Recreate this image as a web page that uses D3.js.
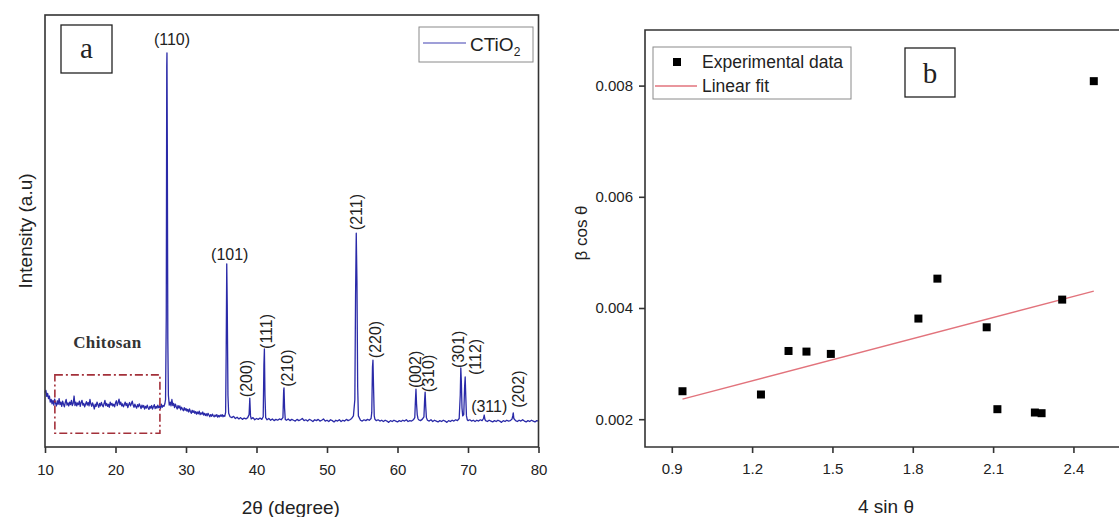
<!DOCTYPE html>
<html>
<head>
<meta charset="utf-8">
<script src="https://cdn.jsdelivr.net/npm/d3@7"></script>
<style>
  html, body { margin: 0; padding: 0; background: #fff; }
  svg { display: block; font-family: "Liberation Sans", Arial, sans-serif; }
</style>
</head>
<body>
<svg id="chart" width="1119" height="517"></svg>
<script>
// ---------- Panel a: XRD scan of CTiO2, [2θ (deg), intensity (a.u.)] ----------
const scan10to27 = [
  [10.000,126],[10.125,131],[10.250,117],[10.375,124],[10.500,112],[10.625,118],[10.750,104],[10.875,110],
  [11.000,100],[11.125,108],[11.250,97],[11.375,111],[11.500,101],[11.625,95],[11.750,107],[11.875,99],
  [12.000,112],[12.125,98],[12.250,104],[12.375,94],[12.500,106],[12.625,99],[12.750,93],[12.875,103],
  [13.000,110],[13.125,97],[13.250,102],[13.375,95],[13.500,104],[13.625,98],[13.750,108],[13.875,96],
  [14.000,101],[14.125,118],[14.250,96],[14.375,104],[14.500,95],[14.625,102],[14.750,98],[14.875,106],
  [15.000,94],[15.125,103],[15.250,108],[15.375,97],[15.500,101],[15.625,93],[15.750,99],[15.875,105],
  [16.000,97],[16.125,103],[16.250,95],[16.375,110],[16.500,100],[16.625,94],[16.750,102],[16.875,96],
  [17.000,88],[17.125,99],[17.250,94],[17.375,104],[17.500,98],[17.625,92],[17.750,101],[17.875,95],
  [18.000,103],[18.125,97],[18.250,93],[18.375,100],[18.500,108],[18.625,96],[18.750,101],[18.875,94],
  [19.000,99],[19.125,92],[19.250,104],[19.375,97],[19.500,101],[19.625,95],[19.750,99],[19.875,93],
  [20.000,102],[20.125,107],[20.250,96],[20.375,103],[20.500,111],[20.625,98],[20.750,104],[20.875,95],
  [21.000,100],[21.125,93],[21.250,98],[21.375,104],[21.500,96],[21.625,101],[21.750,91],[21.875,98],
  [22.000,103],[22.125,95],[22.250,100],[22.375,106],[22.500,97],[22.625,92],[22.750,99],[22.875,94],
  [23.000,90],[23.125,98],[23.250,93],[23.375,100],[23.500,95],[23.625,89],[23.750,97],[23.875,92],
  [24.000,96],[24.125,88],[24.250,94],[24.375,90],[24.500,97],[24.625,91],[24.750,87],[24.875,94],
  [25.000,90],[25.125,96],[25.250,88],[25.375,93],[25.500,98],[25.625,89],[25.750,94],[25.875,90],
  [26.000,97],[26.125,91],[26.250,95],[26.375,89],[26.500,99],[26.625,92],[26.750,96],[26.875,94],
  [27.000,100]
];
const scan27to45 = [
  [27.10,110],[27.20,300],[27.27,880],[27.30,912],[27.35,700],[27.42,250],[27.50,120],[27.625,97],
  [27.750,104],[27.875,95],[28.000,110],[28.125,96],[28.250,101],[28.375,91],[28.500,99],[28.625,93],
  [28.750,88],[28.875,96],[29.000,90],[29.125,95],[29.250,86],[29.375,92],[29.500,88],[29.625,84],
  [29.750,91],[29.875,85],[30.000,89],[30.125,83],[30.250,87],[30.375,81],[30.500,88],[30.625,82],
  [30.750,78],[30.875,85],[31.000,80],[31.125,84],[31.250,78],[31.375,82],[31.500,76],[31.625,81],
  [31.750,77],[31.875,83],[32.000,75],[32.125,79],[32.250,76],[32.375,81],[32.500,74],[32.625,78],
  [32.750,73],[32.875,77],[33.000,72],[33.125,78],[33.250,74],[33.375,70],[33.500,75],[33.625,71],
  [33.750,76],[33.875,72],[34.000,70],[34.125,74],[34.250,71],[34.375,75],[34.500,69],[34.625,73],
  [34.750,70],[34.875,74],[35.000,71],[35.125,75],[35.250,70],[35.375,73],[35.500,71],
  [35.62,80],[35.70,220],[35.78,424],[35.85,330],[35.95,120],[36.05,78],[36.25,70],[36.50,68],
  [36.75,71],[37.00,66],[37.25,69],[37.50,65],[37.75,68],[38.00,64],[38.25,67],[38.50,65],
  [38.75,68],[38.95,75],[39.05,113],[39.15,72],[39.25,65],[39.50,68],[39.75,63],[40.00,66],
  [40.25,64],[40.50,67],[40.75,64],[40.95,70],[41.05,190],[41.12,227],[41.20,120],[41.30,68],
  [41.50,63],[41.75,66],[42.00,62],[42.25,65],[42.50,61],[42.75,64],[43.00,62],[43.25,65],
  [43.50,63],[43.75,68],[43.85,130],[43.90,137],[43.98,90],[44.08,64],[44.25,62],[44.50,65],
  [44.75,61]
];
const scan45to62 = [
  [45.00,64],[45.25,62],[45.50,60],[45.75,64],[46.00,61],[46.25,63],[46.50,66],[46.75,61],
  [47.00,63],[47.25,60],[47.50,64],[47.75,62],[48.00,59],[48.25,63],[48.50,61],[48.75,64],
  [49.00,60],[49.25,62],[49.50,65],[49.75,60],[50.00,62],[50.25,59],[50.50,63],[50.75,61],
  [51.00,58],[51.25,62],[51.50,60],[51.75,63],[52.00,59],[52.25,62],[52.50,60],[52.75,64],
  [53.00,61],[53.25,63],[53.50,66],[53.75,72],[53.95,110],[54.05,350],[54.15,495],[54.25,380],
  [54.35,140],[54.45,72],[54.75,62],[55.00,60],[55.25,63],[55.50,61],[55.75,64],[56.00,62],
  [56.25,66],[56.35,80],[56.45,185],[56.52,201],[56.60,140],[56.70,72],[56.80,64],[57.00,61],
  [57.25,63],[57.50,60],[57.75,62],[58.00,59],[58.25,62],[58.50,60],[58.75,57],[59.00,61],
  [59.25,59],[59.50,62],[59.75,60],[60.00,58],[60.25,61],[60.50,59],[60.75,62],[61.00,60],
  [61.25,63],[61.50,59],[61.75,61]
];
const scan62to80 = [
  [62.00,60],[62.25,63],[62.45,68],[62.55,110],[62.62,134],[62.70,100],[62.80,75],[62.90,66],
  [63.00,63],[63.25,61],[63.50,64],[63.75,70],[63.85,110],[63.92,127],[64.00,95],[64.10,68],
  [64.25,62],[64.50,60],[64.75,63],[65.00,59],[65.25,62],[65.50,60],[65.75,58],[66.00,61],
  [66.25,59],[66.50,62],[66.75,60],[67.00,57],[67.25,61],[67.50,59],[67.75,62],[68.00,60],
  [68.25,63],[68.50,61],[68.75,66],[68.90,120],[68.98,183],[69.06,150],[69.15,90],[69.25,72],
  [69.40,75],[69.52,140],[69.60,162],[69.68,120],[69.78,72],[69.90,63],[70.00,61],[70.25,63],
  [70.50,60],[70.75,62],[71.00,59],[71.25,62],[71.50,60],[71.75,63],[72.00,61],[72.20,66],
  [72.30,74],[72.40,64],[72.50,61],[72.75,59],[73.00,62],[73.25,60],[73.50,58],[73.75,61],
  [74.00,59],[74.25,62],[74.50,60],[74.75,57],[75.00,61],[75.25,59],[75.50,62],[75.75,60],
  [76.00,61],[76.25,65],[76.35,72],[76.42,79],[76.50,66],[76.75,61],[77.00,59],[77.25,62],
  [77.50,60],[77.75,63],[78.00,60],[78.25,58],[78.50,61],[78.75,59],[79.00,62],[79.25,60],
  [79.50,58],[79.75,61],[80.00,60]
];

// Indexed reflections: Miller indices, peak position and peak intensity
const hklLabels    = ["(110)","(101)","(200)","(111)","(210)","(211)","(220)","(002)","(310)","(301)","(112)","(311)","(202)"];
const hklTheta     = [27.30, 35.78, 39.05, 41.12, 43.90, 54.15, 56.52, 62.62, 63.92, 68.98, 69.60, 72.30, 76.42];
const hklIntensity = [912, 424, 113, 227, 137, 495, 201, 134, 127, 183, 162, 74, 79];

const xTicksA = [10, 20, 30, 40, 50, 60, 70, 80];
// Amorphous chitosan region (2θ range, intensity range)
const chitosanTheta = [11.4, 26.3];
const chitosanIntensity = [32, 167];

// ---------- Panel b: Williamson–Hall plot ----------
const fourSinTheta = [0.940, 1.233, 1.336, 1.403, 1.494, 1.821, 1.892, 2.076, 2.116, 2.256, 2.281, 2.358, 2.476];
const betaCosTheta = [0.002503, 0.002444, 0.003227, 0.003216, 0.003174, 0.003810, 0.004528, 0.003653, 0.002180, 0.002120, 0.002108, 0.004151, 0.008080];
const xTicksB = [0.9, 1.2, 1.5, 1.8, 2.1, 2.4];
const yTicksB = [0.002, 0.004, 0.006, 0.008];

// ---------- drawing ----------
const svg = d3.select("#chart");
const frameColor = "#333";
const textColor = "#222";
const scanColor = "#2a2aa8";
const fitColor = "#e2737c";

// label placement for the hkl annotations (px offsets from the peak top)
const hklLayout = [
  {rot:false, dx:5,   gap:14},
  {rot:false, dx:3,   gap:9},
  {rot:true,  dx:-3.5,gap:1},
  {rot:true,  dx:2,   gap:0},
  {rot:true,  dx:3,   gap:1},
  {rot:true,  dx:0,   gap:3},
  {rot:true,  dx:2,   gap:2},
  {rot:true,  dx:-1,  gap:1},
  {rot:true,  dx:3,   gap:0},
  {rot:true,  dx:-2,  gap:0},
  {rot:true,  dx:10,  gap:2},
  {rot:false, dx:5,   gap:9},
  {rot:true,  dx:5,   gap:5}
];

// ----- Panel a -----
const A = {left: 45, right: 538.5, top: 15, bottom: 447};
const xA = d3.scaleLinear().domain([10, 80]).range([A.left, A.right]);
const yA = d3.scaleLinear().domain([0, 1000]).range([A.bottom, A.top]);

const gA = svg.append("g");

const scan = [].concat(scan10to27, scan27to45, scan45to62, scan62to80);
gA.append("path")
  .datum(scan)
  .attr("fill", "none")
  .attr("stroke", scanColor)
  .attr("stroke-width", 1.3)
  .attr("stroke-linejoin", "round")
  .attr("d", d3.line().x(d => xA(d[0])).y(d => yA(d[1])));

// dash-dot box around the chitosan region
gA.append("rect")
  .attr("x", xA(chitosanTheta[0]))
  .attr("y", yA(chitosanIntensity[1]))
  .attr("width", xA(chitosanTheta[1]) - xA(chitosanTheta[0]))
  .attr("height", yA(chitosanIntensity[0]) - yA(chitosanIntensity[1]))
  .attr("fill", "none")
  .attr("stroke", "#a3303a")
  .attr("stroke-width", 1.6)
  .attr("stroke-dasharray", "8,3,2,3");

gA.append("text")
  .attr("x", (xA(chitosanTheta[0]) + xA(chitosanTheta[1])) / 2)
  .attr("y", yA(chitosanIntensity[1]) - 33)
  .attr("text-anchor", "middle")
  .attr("dy", "0.35em")
  .style("font-family", "'Liberation Serif', 'Times New Roman', serif")
  .style("font-weight", "bold")
  .style("font-size", "17px")
  .style("letter-spacing", "0.4px")
  .attr("fill", "#333")
  .text("Chitosan");

// hkl labels
hklLabels.forEach((lab, i) => {
  const L = hklLayout[i];
  const px = xA(hklTheta[i]) + L.dx;
  const py = yA(hklIntensity[i]) - L.gap;
  const t = gA.append("text")
    .attr("fill", textColor)
    .style("font-size", "16px")
    .text(lab);
  if (L.rot) {
    t.attr("transform", `translate(${px},${py}) rotate(-90)`)
     .attr("text-anchor", "start")
     .attr("dy", "0.35em");
  } else {
    t.attr("x", px).attr("y", py)
     .attr("text-anchor", "middle")
     .attr("dy", "0.35em");
  }
});

// frame
gA.append("rect")
  .attr("x", A.left).attr("y", A.top)
  .attr("width", A.right - A.left).attr("height", A.bottom - A.top)
  .attr("fill", "none").attr("stroke", frameColor).attr("stroke-width", 1.6);

// bottom axis
const axA = gA.append("g")
  .attr("transform", `translate(0,${A.bottom})`)
  .call(d3.axisBottom(xA).tickValues(xTicksA).tickFormat(d3.format("d")).tickSize(6).tickPadding(11));
axA.select(".domain").remove();
axA.selectAll(".tick line").attr("stroke", frameColor).attr("stroke-width", 1.6);
axA.selectAll(".tick text").attr("fill", textColor).style("font-size", "15px").style("font-family", "'Liberation Sans', Arial, sans-serif");

// axis titles
gA.append("text")
  .attr("x", (A.left + A.right) / 2 - 1)
  .attr("y", 507)
  .attr("dy", "0.35em")
  .attr("text-anchor", "middle")
  .attr("fill", textColor)
  .style("font-size", "19px")
  .text("2θ (degree)");

gA.append("text")
  .attr("transform", `translate(25,${(A.top + A.bottom) / 2}) rotate(-90)`)
  .attr("dy", "0.35em")
  .attr("text-anchor", "middle")
  .attr("fill", textColor)
  .style("font-size", "19px")
  .text("Intensity (a.u)");

// panel letter box
gA.append("rect").attr("x", 61).attr("y", 25).attr("width", 51).attr("height", 48)
  .attr("fill", "#fff").attr("stroke", "#222").attr("stroke-width", 1.3);
gA.append("text").attr("x", 86.5).attr("y", 49).attr("dy", "0.3em")
  .attr("text-anchor", "middle")
  .style("font-family", "'Liberation Serif', 'Times New Roman', serif")
  .style("font-size", "29px").attr("fill", "#222").text("a");

// legend
const legA = gA.append("g");
legA.append("rect").attr("x", 419).attr("y", 27).attr("width", 114).attr("height", 35)
  .attr("fill", "#fff").attr("stroke", "#8a8a8a").attr("stroke-width", 1);
legA.append("line").attr("x1", 423).attr("x2", 466).attr("y1", 43).attr("y2", 43)
  .attr("stroke", scanColor).attr("stroke-opacity", 0.6).attr("stroke-width", 1.5);
const legText = legA.append("text").attr("x", 470).attr("y", 44).attr("dy", "0.35em")
  .attr("fill", textColor).style("font-size", "19px");
legText.append("tspan").text("CTiO");
legText.append("tspan").attr("dy", "5").style("font-size", "12px").text("2");

// ----- Panel b -----
const B = {left: 645, right: 1127, top: 30, bottom: 447};
const xB = d3.scaleLinear().domain([0.8, 2.6]).range([B.left, B.right]);
const yB = d3.scaleLinear().domain([0.0015, 0.009]).range([B.bottom, B.top]);
const gB = svg.append("g");

// least-squares linear fit of βcosθ vs 4sinθ
const n = fourSinTheta.length;
const mx = d3.mean(fourSinTheta), my = d3.mean(betaCosTheta);
let sxy = 0, sxx = 0;
for (let i = 0; i < n; i++) {
  sxy += (fourSinTheta[i] - mx) * (betaCosTheta[i] - my);
  sxx += (fourSinTheta[i] - mx) ** 2;
}
const slope = sxy / sxx, intercept = my - slope * mx;
const fitX = d3.extent(fourSinTheta);

gB.append("line")
  .attr("x1", xB(fitX[0])).attr("y1", yB(intercept + slope * fitX[0]))
  .attr("x2", xB(fitX[1])).attr("y2", yB(intercept + slope * fitX[1]))
  .attr("stroke", fitColor).attr("stroke-width", 1.3);

const sq = 8;
gB.selectAll("rect.pt")
  .data(fourSinTheta.map((x, i) => [x, betaCosTheta[i]]))
  .join("rect")
  .attr("class", "pt")
  .attr("x", d => xB(d[0]) - sq / 2)
  .attr("y", d => yB(d[1]) - sq / 2)
  .attr("width", sq).attr("height", sq)
  .attr("fill", "#000");

// frame (right side runs past the page edge)
gB.append("path")
  .attr("d", `M${B.right},${B.top}H${B.left}V${B.bottom}H${B.right}`)
  .attr("fill", "none").attr("stroke", frameColor).attr("stroke-width", 1.6);

const axBx = gB.append("g")
  .attr("transform", `translate(0,${B.bottom})`)
  .call(d3.axisBottom(xB).tickValues(xTicksB).tickFormat(d3.format(".1f")).tickSize(6).tickPadding(10));
axBx.select(".domain").remove();
axBx.selectAll(".tick line").attr("stroke", frameColor).attr("stroke-width", 1.6);
axBx.selectAll(".tick text").attr("fill", textColor).style("font-size", "15px").style("font-family", "'Liberation Sans', Arial, sans-serif");

const axBy = gB.append("g")
  .attr("transform", `translate(${B.left},0)`)
  .call(d3.axisLeft(yB).tickValues(yTicksB).tickFormat(d3.format(".3f")).tickSize(6).tickPadding(6));
axBy.select(".domain").remove();
axBy.selectAll(".tick line").attr("stroke", frameColor).attr("stroke-width", 1.6);
axBy.selectAll(".tick text").attr("fill", textColor).style("font-size", "15px").style("font-family", "'Liberation Sans', Arial, sans-serif");

gB.append("text")
  .attr("x", 886).attr("y", 506).attr("dy", "0.35em")
  .attr("text-anchor", "middle").attr("fill", textColor)
  .style("font-size", "19px")
  .text("4 sin θ");

gB.append("text")
  .attr("transform", `translate(581,233) rotate(-90)`)
  .attr("dy", "0.35em")
  .attr("text-anchor", "middle").attr("fill", textColor)
  .style("font-size", "17px")
  .text("β cos θ");

// legend
const legB = gB.append("g");
legB.append("rect").attr("x", 653).attr("y", 47).attr("width", 198).attr("height", 52)
  .attr("fill", "#fff").attr("stroke", "#8a8a8a").attr("stroke-width", 1);
legB.append("rect").attr("x", 677 - 4).attr("y", 62 - 4).attr("width", 8).attr("height", 8).attr("fill", "#000");
legB.append("line").attr("x1", 655).attr("x2", 697).attr("y1", 86).attr("y2", 86)
  .attr("stroke", fitColor).attr("stroke-width", 1.3);
legB.append("text").attr("x", 702).attr("y", 62).attr("dy", "0.35em")
  .attr("fill", textColor).style("font-size", "17.5px").text("Experimental data");
legB.append("text").attr("x", 702).attr("y", 86).attr("dy", "0.35em")
  .attr("fill", textColor).style("font-size", "17.5px").text("Linear fit");

// panel letter box
gB.append("rect").attr("x", 905).attr("y", 48).attr("width", 50).attr("height", 49)
  .attr("fill", "#fff").attr("stroke", "#222").attr("stroke-width", 1.3);
gB.append("text").attr("x", 930).attr("y", 72.5).attr("dy", "0.35em")
  .attr("text-anchor", "middle")
  .style("font-family", "'Liberation Serif', 'Times New Roman', serif")
  .style("font-size", "29px").attr("fill", "#222").text("b");
</script>
</body>
</html>
